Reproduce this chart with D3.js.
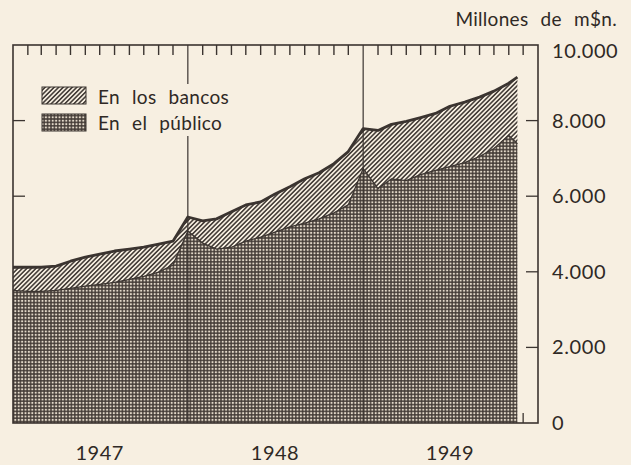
<!DOCTYPE html>
<html>
<head>
<meta charset="utf-8">
<script src="https://cdn.jsdelivr.net/npm/d3@7"></script>
<style>
  body { margin: 0; background: #f7efe1; }
  text { font-family: Lato, "Open Sans", sans-serif; fill: #2f2925; }
</style>
</head>
<body>
<div id="chart"></div>
<script>
// fin de cada mes (primer dia del mes siguiente)
const fechas = [
  "1947-01-01", "1947-02-01", "1947-03-01", "1947-04-01", "1947-05-01", "1947-06-01",
  "1947-07-01", "1947-08-01", "1947-09-01", "1947-10-01", "1947-11-01", "1947-12-01",
  "1948-01-01", "1948-02-01", "1948-03-01", "1948-04-01", "1948-05-01", "1948-06-01",
  "1948-07-01", "1948-08-01", "1948-09-01", "1948-10-01", "1948-11-01", "1948-12-01",
  "1949-01-01", "1949-02-01", "1949-03-01", "1949-04-01", "1949-05-01", "1949-06-01",
  "1949-07-01", "1949-08-01", "1949-09-01", "1949-10-01", "1949-11-01", "1949-11-19"
];
// total (bancos + publico), millones de m$n.
const total = [
  4120, 4120, 4120, 4150, 4280, 4390, 4470, 4550, 4600, 4650, 4730, 4810,
  5450, 5350, 5400, 5590, 5770, 5850, 6060, 6250, 6460, 6620, 6860, 7180,
  7790, 7740, 7900, 7980, 8080, 8190, 8380, 8490, 8620, 8780, 8990, 9150
];
// en el publico
const enElPublico = [
  3510, 3480, 3480, 3510, 3560, 3620, 3670, 3720, 3800, 3880, 3990, 4180,
  5080, 4760, 4600, 4650, 4810, 4920, 5050, 5190, 5290, 5400, 5560, 5770,
  6730, 6200, 6460, 6410, 6570, 6680, 6780, 6890, 7050, 7260, 7610, 7390
];
const yTicks = [0, 2000, 4000, 6000, 8000, 10000];
const years = [1947, 1948, 1949];
const legendLabels = ["En los bancos", "En el público"];
const unidad = "Millones de m$n.";

const width = 631, height = 465;
const ink = "#3b3430", paper = "#f7efe1";

const parse = d3.timeParse("%Y-%m-%d");
const data = fechas.map((f, i) => ({ date: parse(f), total: total[i], publico: enElPublico[i] }));

const x = d3.scaleTime()
  .domain([new Date(1947, 0, 1), new Date(1950, 0, 1)])
  .range([13, 538]);
const y = d3.scaleLinear().domain([0, 10000]).range([423, 45]);

const fmt = d3.formatLocale({ decimal: ",", thousands: ".", grouping: [3], currency: ["$", ""] }).format(",");

const svg = d3.select("#chart").append("svg")
  .attr("width", width)
  .attr("height", height);

svg.append("rect").attr("width", width).attr("height", height).attr("fill", paper);

// patrones
const defs = svg.append("defs");
const hatch = defs.append("pattern")
  .attr("id", "hatch")
  .attr("patternUnits", "userSpaceOnUse")
  .attr("width", 3.2).attr("height", 3.2)
  .attr("patternTransform", "rotate(45)");
hatch.append("rect").attr("width", 3.2).attr("height", 3.2).attr("fill", paper);
hatch.append("line").attr("x1", 0.8).attr("x2", 0.8).attr("y1", 0).attr("y2", 3.2)
  .attr("stroke", ink).attr("stroke-width", 1.5);

const dots = defs.append("pattern")
  .attr("id", "dots")
  .attr("patternUnits", "userSpaceOnUse")
  .attr("width", 3.4).attr("height", 3.4);
dots.append("rect").attr("width", 3.4).attr("height", 3.4).attr("fill", "#453d38");
dots.append("circle").attr("cx", 1.7).attr("cy", 1.7).attr("r", 1.1).attr("fill", "#e2d8c8");

const months = x.ticks(d3.timeMonth.every(1)).filter(d => d.getMonth() !== 0);

// ticks inferiores (bajo las areas)
svg.append("g").selectAll("line")
  .data(months)
  .join("line")
  .attr("x1", d => x(d)).attr("x2", d => x(d))
  .attr("y1", y(0)).attr("y2", y(0) - 10)
  .attr("stroke", ink).attr("stroke-width", 1.3);

// ticks y a ambos lados
const inner = yTicks.filter(v => v > 0 && v < 10000);
svg.append("g").selectAll("line")
  .data(inner)
  .join("line")
  .attr("x1", x.range()[0]).attr("x2", x.range()[0] + 12)
  .attr("y1", d => y(d)).attr("y2", d => y(d))
  .attr("stroke", ink).attr("stroke-width", 1.3);
svg.append("g").selectAll("line")
  .data(inner)
  .join("line")
  .attr("x1", x.range()[1] - 12).attr("x2", x.range()[1])
  .attr("y1", d => y(d)).attr("y2", d => y(d))
  .attr("stroke", ink).attr("stroke-width", 1.3);

// areas
const areaPublico = d3.area().x(d => x(d.date)).y0(y(0)).y1(d => y(d.publico));
const areaBancos = d3.area().x(d => x(d.date)).y0(d => y(d.publico)).y1(d => y(d.total));

svg.append("path").datum(data).attr("d", areaPublico).attr("fill", "url(#dots)");
svg.append("path").datum(data).attr("d", areaBancos).attr("fill", "url(#hatch)");

// lineas de division de anios
svg.append("g").selectAll("line")
  .data(years.slice(1))
  .join("line")
  .attr("x1", d => x(new Date(d, 0, 1))).attr("x2", d => x(new Date(d, 0, 1)))
  .attr("y1", y(10000)).attr("y2", y(0))
  .attr("stroke", ink).attr("stroke-width", 1.2);

svg.append("path").datum(data)
  .attr("d", d3.line().x(d => x(d.date)).y(d => y(d.publico)))
  .attr("fill", "none").attr("stroke", ink).attr("stroke-width", 1.3);
svg.append("path").datum(data)
  .attr("d", d3.line().x(d => x(d.date)).y(d => y(d.total)))
  .attr("fill", "none").attr("stroke", ink).attr("stroke-width", 2.8)
  .attr("stroke-linejoin", "round");

// marco
svg.append("rect")
  .attr("x", x.range()[0]).attr("y", y(10000))
  .attr("width", x.range()[1] - x.range()[0]).attr("height", y(0) - y(10000))
  .attr("fill", "none").attr("stroke", ink).attr("stroke-width", 1.6);

// ticks superiores
svg.append("g").selectAll("line")
  .data(months)
  .join("line")
  .attr("x1", d => x(d)).attr("x2", d => x(d))
  .attr("y1", y(10000)).attr("y2", y(10000) + 10)
  .attr("stroke", ink).attr("stroke-width", 1.4);

// etiquetas eje y
svg.append("g").selectAll("text")
  .data(yTicks)
  .join("text")
  .attr("x", x.range()[1] + 14)
  .attr("y", d => y(d) + (d === 10000 ? 6 : 0))
  .attr("dy", "0.35em")
  .attr("font-size", 20)
  .attr("letter-spacing", 0.6)
  .text(d => fmt(d));

svg.append("text")
  .attr("x", 617).attr("y", 26)
  .attr("text-anchor", "end")
  .attr("font-size", 19)
  .attr("word-spacing", 7)
  .attr("letter-spacing", 0.3)
  .text(unidad);

// anios
svg.append("g").selectAll("text")
  .data(years)
  .join("text")
  .attr("x", d => x(new Date(d, 6, 1)))
  .attr("y", 460)
  .attr("text-anchor", "middle")
  .attr("font-size", 20)
  .attr("letter-spacing", 0.5)
  .text(d => d);

// leyenda
const leg = svg.append("g");
leg.append("rect").attr("x", 38).attr("y", 84).attr("width", 200).attr("height", 52).attr("fill", paper);
const fills = ["url(#hatch)", "url(#dots)"];
legendLabels.forEach((lab, i) => {
  leg.append("rect")
    .attr("x", 42).attr("y", 87 + i * 27)
    .attr("width", 44).attr("height", 17)
    .attr("fill", fills[i]).attr("stroke", ink).attr("stroke-width", 1);
  leg.append("text")
    .attr("x", 98).attr("y", 104 + i * 26)
    .attr("font-size", 19)
    .attr("word-spacing", 7)
    .attr("letter-spacing", 0.3)
    .text(lab);
});
</script>
</body>
</html>
